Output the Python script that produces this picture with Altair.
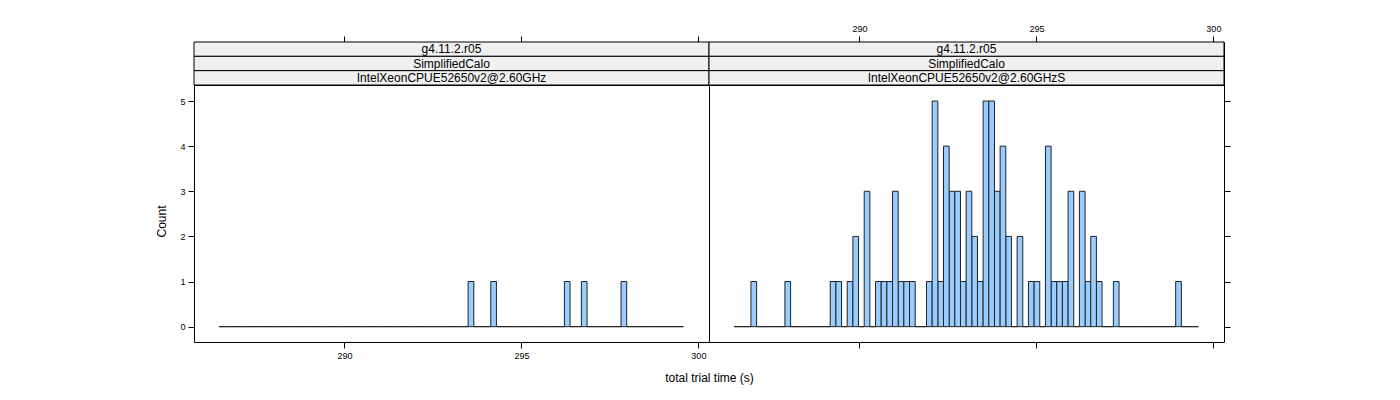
import altair as alt
import pandas as pd

# ---- data ----
BIN_START = 286.455
BIN_WIDTH = 0.16
N_BINS = 82

left_bins = [44, 48, 61, 64, 71]
left_counts = [1, 1, 1, 1, 1]

right_bins = [3, 9, 17, 18, 20, 21, 23, 25, 26, 27, 28, 29, 30, 31, 34, 35, 36,
              37, 38, 39, 40, 41, 42, 43, 44, 45, 46, 47, 48, 50, 52, 53, 55, 56,
              57, 58, 59, 61, 62, 63, 64, 67, 78]
right_counts = [1, 1, 1, 1, 1, 2, 3, 1, 1, 1, 3, 1, 1, 1, 1, 5, 1, 4, 3, 3, 1,
                3, 2, 1, 5, 5, 3, 4, 2, 2, 1, 1, 4, 1, 1, 1, 3, 3, 1, 2, 1, 1, 1]

left_strips = ["g4.11.2.r05", "SimplifiedCalo", "IntelXeonCPUE52650v2@2.60GHz"]
right_strips = ["g4.11.2.r05", "SimplifiedCalo", "IntelXeonCPUE52650v2@2.60GHzS"]

x_ticks = [290, 295, 300]
y_ticks = [0, 1, 2, 3, 4, 5]
X_DOMAIN = [285.75, 300.30]
Y_DOMAIN = [-0.34, 5.355]

x_title = "total trial time (s)"
y_title = "Count"

# ---- layout / style ----
PANEL_W = 515
PANEL_H = 257
STRIP_H = 43
FONT = "Liberation Sans"
BAR_FILL = "#99CCFF"
STRIP_FILL = "#F0F0F0"


def hist_table(bins, counts):
    cmap = dict(zip(bins, counts))
    rows = []
    for i in range(N_BINS):
        lo = BIN_START + i * BIN_WIDTH
        rows.append({"lo": lo, "hi": lo + BIN_WIDTH, "count": cmap.get(i, 0)})
    df = pd.DataFrame(rows)
    return df.sort_values("count", kind="stable").reset_index(drop=True)


def xscale():
    return alt.Scale(domain=X_DOMAIN, nice=False, zero=False)


def strip(levels, show_labels):
    df = pd.DataFrame({"row": list(range(len(levels))), "label": levels})
    yenc = alt.Y("row:O", axis=None, scale=alt.Scale(paddingInner=0, paddingOuter=0))
    rect = alt.Chart(df).mark_rect(fill=STRIP_FILL, stroke="black", strokeWidth=1).encode(
        x=alt.value(0), x2=alt.value(PANEL_W), y=yenc
    )
    text = alt.Chart(df).mark_text(font=FONT, fontSize=12, color="black", baseline="middle").encode(
        x=alt.X(datum=sum(X_DOMAIN) / 2, type="quantitative", scale=xscale(),
                axis=alt.Axis(orient="top", values=x_ticks, labels=show_labels, title=None,
                              tickSize=6, labelPadding=3, format="d")),
        y=yenc,
        text="label:N",
    )
    return alt.layer(rect, text).properties(width=PANEL_W, height=STRIP_H)


def panel(bins, counts, side):
    df = hist_table(bins, counts)
    if side == "left":
        xaxis = alt.Axis(orient="bottom", values=x_ticks, labels=True, title=x_title,
                         tickSize=6, labelPadding=3, format="d",
                         titleX=PANEL_W, titleY=30, titleAnchor="middle", titleBaseline="top")
        yaxis = alt.Axis(orient="left", values=y_ticks, labels=True, title=y_title,
                         tickSize=6, labelPadding=3, labelAngle=0,
                         titleX=-33, titleY=136, titleBaseline="middle", titleAnchor="middle")
    else:
        xaxis = alt.Axis(orient="bottom", values=x_ticks, labels=False, title=None, tickSize=6)
        yaxis = alt.Axis(orient="right", values=y_ticks, labels=False, title=None, tickSize=6)
    return alt.Chart(df).mark_rect(fill=BAR_FILL, stroke="#222222", strokeWidth=1).encode(
        x=alt.X("lo:Q", scale=xscale(), axis=xaxis),
        x2="hi:Q",
        y=alt.Y("count:Q", scale=alt.Scale(domain=Y_DOMAIN, nice=False, zero=False), axis=yaxis),
        y2=alt.datum(0),
    ).properties(width=PANEL_W, height=PANEL_H)


chart = alt.concat(
    strip(left_strips, False),
    strip(right_strips, True),
    panel(left_bins, left_counts, "left"),
    panel(right_bins, right_counts, "right"),
    columns=2, spacing=0, bounds="flush",
).resolve_scale(
    x="independent", y="independent"
).properties(
    padding={"left": 146, "top": 15, "right": 5, "bottom": 5},
    background="white",
).configure_view(
    stroke="black", strokeWidth=1
).configure_axis(
    domain=False, grid=False, tickColor="black", tickWidth=1,
    labelFont=FONT, labelFontSize=9, labelColor="black",
    titleFont=FONT, titleFontSize=12, titleFontWeight="normal", titleColor="black",
)

chart.save("out.html", embed_options={"renderer": "svg", "actions": False})
